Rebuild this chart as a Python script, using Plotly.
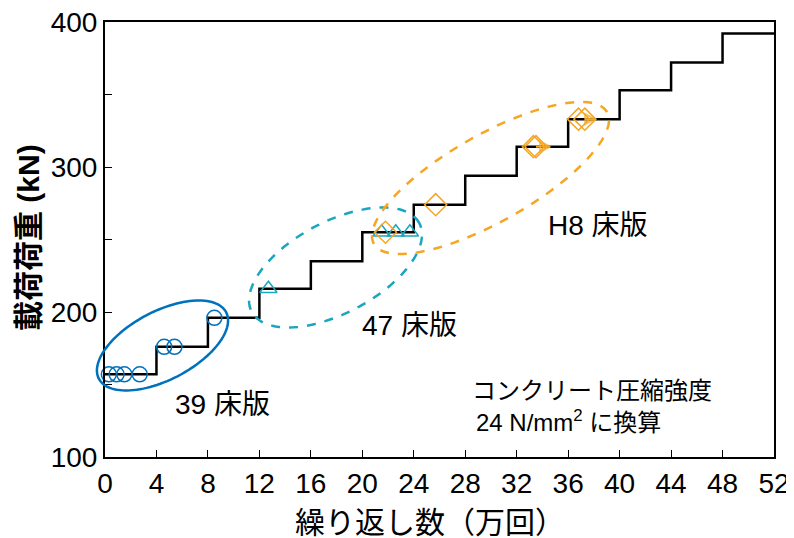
import numpy as np
import plotly.graph_objects as go

# staircase load history (load in kN held for each 4万回 block)
step_x = [0, 4, 8, 12, 16, 20, 24, 28, 32, 36, 40, 44, 48, 52]
step_load = [157, 176, 196, 216, 235, 255, 274, 294, 314, 333, 353, 372, 392, 392]

# failure points of each slab group
s39_x = [0.3, 0.9, 1.5, 2.7, 4.6, 5.4, 8.5]
s39_y = [157, 157, 157, 157, 176, 176, 196]
s47_x = [12.7, 21.5, 22.6, 23.7]
s47_y = [216, 255, 255, 255]
h8_x = [21.8, 25.7, 33.3, 33.5, 36.8, 37.3]
h8_y = [255, 274, 314, 314, 333, 333]
# H8 specimens still running (arrow to the right)
h8_arrow_x0 = [33.5, 37.3]
h8_arrow_x1 = [34.6, 38.1]
h8_arrow_y = [314, 333]

BLUE = "#0072BD"
TEAL = "#1BA6BF"
ORANGE = "#F5A623"
FONT = "Liberation Sans, Noto Sans CJK JP"

# page body adds an 8px offset, so the figure is shifted to match the window
OFF = 8
W, H = 794 - OFF, 538 - OFF
ML, MT = 105 - OFF, 22 - OFF
MR = W - (774 - OFF)
MB = H - (457 - OFF)
PW, PH = W - ML - MR, H - MT - MB


def to_paper(px, py):
    # window pixels -> paper fractions
    return (px - OFF - ML) / PW, (MT + PH - (py - OFF)) / PH


def ellipse_path(cx, cy, a, b, ang):
    # ellipse given in window pixels, returned as a paper-coordinate svg path
    t = np.linspace(0, 2 * np.pi, 120)
    th = np.radians(ang)
    px = cx + a * np.cos(t) * np.cos(th) - b * np.sin(t) * np.sin(th)
    py = cy - (a * np.cos(t) * np.sin(th) + b * np.sin(t) * np.cos(th))
    xs, ys = to_paper(px, py)
    pts = [f"{x:.4f},{y:.4f}" for x, y in zip(xs, ys)]
    return "M" + " L".join(pts) + " Z"


fig = go.Figure()

fig.add_trace(go.Scatter(x=step_x, y=step_load, mode="lines", line_shape="hv",
                         line=dict(color="black", width=2.5), showlegend=False))

fig.add_trace(go.Scatter(x=s39_x, y=s39_y, mode="markers", cliponaxis=False,
                         marker=dict(symbol="circle-open", size=15, color=BLUE,
                                     line=dict(width=1.5)), showlegend=False))
fig.add_trace(go.Scatter(x=s47_x, y=s47_y, mode="markers", cliponaxis=False,
                         marker=dict(symbol="triangle-up-open", size=15, color=TEAL,
                                     line=dict(width=1.5)), showlegend=False))
fig.add_trace(go.Scatter(x=h8_x, y=h8_y, mode="markers", cliponaxis=False,
                         marker=dict(symbol="diamond-open", size=17, color=ORANGE,
                                     line=dict(width=1.5)), showlegend=False))
for x0, x1, y in zip(h8_arrow_x0, h8_arrow_x1, h8_arrow_y):
    fig.add_trace(go.Scatter(x=[x0, x1], y=[y, y], mode="lines+markers",
                             line=dict(color=ORANGE, width=2),
                             marker=dict(symbol=["circle", "arrow-right-open"], size=[0, 10],
                                         color=ORANGE, line=dict(width=2)),
                             showlegend=False))

shapes = [
    dict(type="path", xref="paper", yref="paper", path=ellipse_path(162.5, 345.5, 71.8, 34.2, 27.6),
         line=dict(color=BLUE, width=2.5)),
    dict(type="path", xref="paper", yref="paper", path=ellipse_path(335.5, 267.5, 94.8, 45.7, 27.9),
         line=dict(color=TEAL, width=2.5, dash="dash")),
    dict(type="path", xref="paper", yref="paper", path=ellipse_path(490.5, 178.0, 133.9, 43.5, 29.5),
         line=dict(color=ORANGE, width=2.5, dash="dash")),
]

xt_x, xt_y = to_paper(430, 522)
yt_x, yt_y = to_paper(28, 238)

annotations = [
    dict(x=9.1, y=136, text="39 床版", showarrow=False, font=dict(size=28)),
    dict(x=23.7, y=191, text="47 床版", showarrow=False, font=dict(size=28)),
    dict(x=38.3, y=260, text="H8 床版", showarrow=False, font=dict(size=28)),
    dict(x=28.4, y=146, text="コンクリート圧縮強度", showarrow=False, xanchor="left",
         font=dict(size=24)),
    dict(x=28.7, y=124.5, text="24 N/mm<sup>2</sup> に換算", showarrow=False, xanchor="left",
         font=dict(size=24)),
    dict(x=xt_x, y=xt_y, xref="paper", yref="paper", text="繰り返し数（万回）",
         xanchor="center", yanchor="middle", showarrow=False, font=dict(size=30)),
    dict(x=yt_x, y=yt_y, xref="paper", yref="paper", text="<b>載荷荷重 (kN)</b>",
         xanchor="center", yanchor="middle", showarrow=False, textangle=-90,
         font=dict(size=30)),
]

fig.update_layout(
    width=W, height=H,
    margin=dict(l=ML, r=MR, t=MT, b=MB),
    paper_bgcolor="white", plot_bgcolor="white",
    font=dict(family=FONT, color="black"),
    shapes=shapes, annotations=annotations,
)
fig.update_xaxes(range=[0, 52], tickvals=list(range(0, 53, 4)), ticks="inside", ticklen=7,
                 tickwidth=1, tickcolor="black", showline=True, linewidth=2, linecolor="black",
                 mirror=True, showgrid=False, zeroline=False, tickfont=dict(size=28),
                 automargin=False, ticklabeloverflow="allow")
fig.update_yaxes(range=[100, 400], tickvals=list(range(100, 401, 50)),
                 ticktext=["100", "", "200", "", "300", "", "400"],
                 ticks="inside", ticklen=7, tickwidth=1, tickcolor="black",
                 showline=True, linewidth=2, linecolor="black", mirror=True,
                 showgrid=False, zeroline=False, tickfont=dict(size=28),
                 automargin=False, ticklabeloverflow="allow")

fig.write_html("out.html")
